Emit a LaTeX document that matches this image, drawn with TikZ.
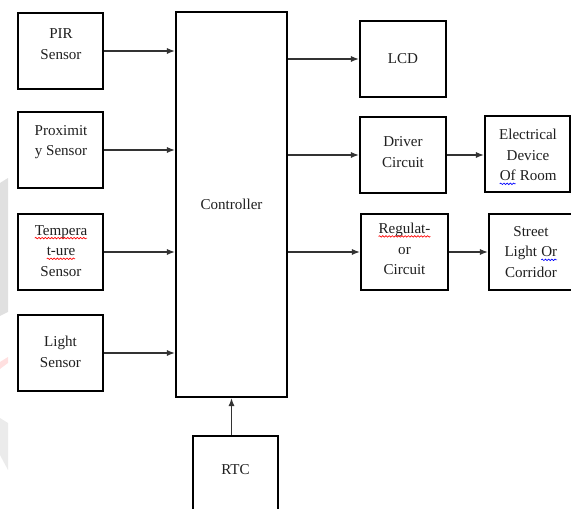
\documentclass[tikz,border=0pt]{standalone}
\usepackage{fontspec}
\setmainfont{Liberation Serif}
\usetikzlibrary{arrows.meta,decorations.pathmorphing}
\newcommand\squig[2]{\tikz[baseline=0pt,x=1pt,y=1pt]{\node[inner sep=0pt,outer sep=0pt,anchor=base] (sqw) at (0,0) {#2};\draw[#1,line width=0.5pt,decorate,decoration={snake,amplitude=0.55pt,segment length=2.4pt}] ([yshift=-2.2pt]sqw.base west) -- ([yshift=-2.2pt]sqw.base east);}}
\tikzset{
  box/.style 2 args={draw=black,line width=1.7pt,minimum width=#1*0.75pt,minimum height=#2*0.75pt,inner sep=0pt},
  txt/.style={align=center,font=\fontsize{11.3}{15.5}\selectfont,text=black!88,inner sep=0pt},
  arr/.style={-{Latex[length=6pt,width=4.6pt]},line width=0.9pt,draw=black!80}
}
\begin{document}
\begin{tikzpicture}[x=0.75pt,y=-0.75pt]
\useasboundingbox (0,0) rectangle (571,509);
\clip (0,0) rectangle (571,509);
% faint watermark at the left edge
\fill[black!12] (0,183) -- (8,178) -- (8,312) -- (0,316) -- cycle;
\fill[red!12] (0,362) -- (8,357) -- (8,363) -- (0,369) -- cycle;
\fill[black!8] (0,418) -- (8,423) -- (8,470) -- (0,455) -- cycle;
% sensors
\node[box={85}{76}] (pir) at (60.5,51) {};
\node[txt] (pirt) at (61,44) {PIR\\Sensor};
\node[box={85}{76}] (prox) at (60.5,150) {};
\node[txt] (proxt) at (61,142) {Proximit\\y Sensor};
\node[box={85}{76}] (temp) at (60.5,252) {};
\node[txt] (tempt) at (61,251) {\squig{red}{Tempera}\\\squig{red}{t-ure}\\Sensor};
\node[box={85}{76}] (light) at (60.5,353) {};
\node[txt] (lightt) at (60.5,352) {Light\\Sensor};
% controller
\node[box={111}{385},txt] (ctrl) at (231.5,204.5) {Controller};
% RTC
\node[box={85}{90}] (rtc) at (235.5,481) {};
\node[txt] (rtct) at (235.5,470) {RTC};
% outputs
\node[box={86}{76},txt] (lcd) at (403,59) {LCD};
\node[box={86}{76}] (drv) at (403,155) {};
\node[txt] (drvt) at (403,152) {Driver\\Circuit};
\node[box={85}{76}] (elec) at (527.5,154) {};
\node[txt] (elect) at (528,157) {Electrical\\Device\\\squig{blue}{Of} Room};
\node[box={87}{76}] (reg) at (404.5,252) {};
\node[txt] (regt) at (404.5,249) {\squig{red}{Regulat-}\\or\\Circuit};
\node[box={84}{76}] (street) at (531,252) {};
\node[txt] (streett) at (531,252) {Street\\Light \squig{blue}{Or}\\Corridor};
% connectors
\draw[arr] (pir.east) -- (pir.east -| ctrl.west);
\draw[arr] (prox.east) -- (prox.east -| ctrl.west);
\draw[arr] (temp.east) -- (temp.east -| ctrl.west);
\draw[arr] (light.east) -- (light.east -| ctrl.west);
\draw[arr] (ctrl.east |- lcd.west) -- (lcd.west);
\draw[arr] (ctrl.east |- drv.west) -- (drv.west);
\draw[arr] (ctrl.east |- reg.west) -- (reg.west);
\draw[arr] (drv.east) -- (drv.east -| elec.west);
\draw[arr] (reg.east) -- (reg.east -| street.west);
\draw[arr] (rtc.north -| ctrl.south) -- (ctrl.south);
\end{tikzpicture}
\end{document}
